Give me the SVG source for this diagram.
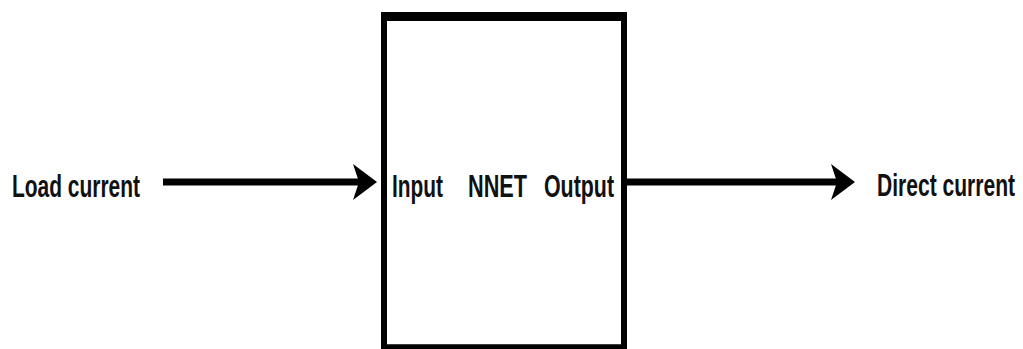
<svg xmlns="http://www.w3.org/2000/svg" width="1023" height="349" viewBox="0 0 1023 349">
  <style>
    .lbl { font-family: "Liberation Sans", Arial, sans-serif; font-weight: bold; font-size: 21px; fill: #111; }
    .edge { stroke: #000; stroke-width: 7; fill: none; }
    .box { fill: #fff; stroke: #000; stroke-width: 6; }
  </style>
  <defs>
    <marker id="head" markerUnits="userSpaceOnUse" viewBox="-26 -19 27 38" markerWidth="27" markerHeight="38" refX="-10" refY="0" orient="auto">
      <path d="M0,0 L-24,-18 L-18,0 L-24,18 Z" fill="#000"/>
    </marker>
  </defs>

  <rect width="1023" height="349" fill="#fff"/>

  <!-- network block (drawn with a 1.5 vertical stretch) -->
  <g id="nnet">
    <g transform="scale(1,1.5)">
      <rect class="box" x="384" y="11" width="240" height="221.5"/>
    </g>
    <text class="lbl" transform="translate(392,197) scale(1,1.5)" textLength="51" lengthAdjust="spacingAndGlyphs">Input</text>
    <text class="lbl" transform="translate(468,197) scale(1,1.5)" textLength="59" lengthAdjust="spacingAndGlyphs">NNET</text>
    <text class="lbl" transform="translate(544,197) scale(1,1.5)" textLength="70" lengthAdjust="spacingAndGlyphs">Output</text>
  </g>

  <g id="load-current">
    <text class="lbl" transform="translate(12,197) scale(1,1.5)" textLength="128" lengthAdjust="spacingAndGlyphs">Load current</text>
  </g>

  <g id="direct-current">
    <text class="lbl" transform="translate(877,196) scale(1,1.5)" textLength="138" lengthAdjust="spacingAndGlyphs">Direct current</text>
  </g>

  <!-- connectors -->
  <g id="connectors">
    <line class="edge" x1="163" y1="182" x2="367" y2="182" marker-end="url(#head)"/>
    <line class="edge" x1="627" y1="182" x2="845" y2="182" marker-end="url(#head)"/>
  </g>
</svg>
